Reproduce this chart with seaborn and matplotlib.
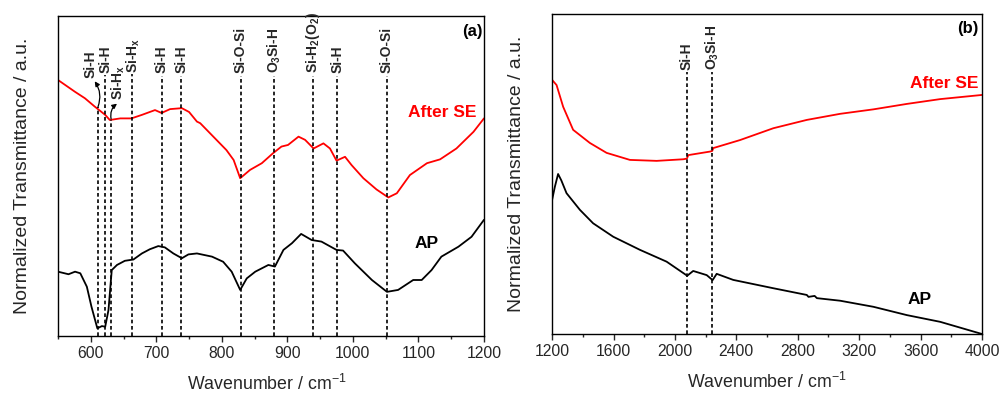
import numpy as np
import pandas as pd
import matplotlib
matplotlib.use("Agg")
import matplotlib.pyplot as plt
import seaborn as sns

# ---------------- data ----------------
# Panel (a): 550-1200 cm-1
a_se_wn = [550, 576, 591, 606, 622, 629, 645, 662, 678, 698, 708, 721, 739, 750, 762,
           767, 787, 807, 818, 828, 843, 861, 878, 891, 901, 917, 927, 940, 955, 965, 975,
           988, 998, 1016, 1036, 1054, 1067, 1087, 1113, 1133, 1158, 1184, 1200]
a_se_y = [80.0, 76.3, 74.3, 71.7, 69.1, 67.5, 68.0, 68.0, 69.1, 70.6, 69.7, 70.9, 71.2,
          70.0, 67.0, 66.5, 62.3, 58.1, 55.0, 49.3, 51.9, 54.0, 57.1, 59.2, 59.7, 62.3,
          61.3, 58.6, 60.2, 58.6, 54.8, 56.0, 53.4, 49.3, 45.8, 43.3, 44.6, 50.3, 54.0,
          55.2, 58.6, 63.8, 68.0]

a_ap_wn = [550, 566, 576, 584, 594, 601, 610, 617, 622, 627, 632, 640, 652, 665, 678,
           690, 703, 713, 726, 739, 749, 762, 785, 802, 815, 828, 838, 851, 871, 881, 894,
           907, 921, 937, 952, 975, 985, 1003, 1029, 1052, 1069, 1092, 1105, 1120, 1135,
           1161, 1181, 1200]
a_ap_y = [20.1, 19.3, 20.1, 19.6, 15.4, 9.2, 2.4, 3.1, 2.9, 8.1, 20.6, 22.2, 23.5, 23.9,
          25.8, 27.1, 28.1, 27.7, 25.8, 24.3, 25.5, 25.8, 24.8, 23.2, 20.1, 14.4, 18.0,
          20.1, 22.2, 21.7, 26.9, 29.0, 31.9, 30.0, 29.5, 26.9, 26.7, 22.7, 17.5, 13.8,
          14.4, 17.5, 17.5, 20.6, 24.8, 27.9, 31.0, 36.3]

# Panel (b): 1200-4000 cm-1
b_se_wn = [1200, 1229, 1272, 1337, 1446, 1555, 1707, 1881, 2054, 2078, 2087, 2228, 2243,
           2250, 2424, 2641, 2859, 3076, 3293, 3511, 3728, 4000]
b_se_y = [79.4, 77.8, 71.0, 63.8, 59.7, 56.6, 54.4, 54.1, 54.6, 54.8, 55.9, 57.0, 57.2,
          58.1, 60.6, 64.3, 66.9, 68.8, 70.2, 71.9, 73.4, 74.7]

b_ap_wn = [1200, 1218, 1239, 1260, 1294, 1381, 1467, 1598, 1772, 1946, 2065, 2080, 2119,
           2207, 2239, 2245, 2272, 2380, 2641, 2859, 2870, 2910, 2925, 3076, 3293, 3511,
           3728, 4000]
b_ap_y = [41.9, 46.0, 50.0, 48.0, 44.0, 38.8, 34.6, 30.4, 26.3, 22.6, 18.7, 18.2, 19.7,
          18.4, 17.1, 16.8, 18.8, 16.9, 14.3, 12.2, 11.6, 11.9, 11.2, 10.4, 8.5, 5.9,
          3.8, 0.0]

# marker lines and labels
a_marks = [611, 622, 631, 663, 708, 738, 829, 880, 939, 976, 1052]
a_mark_labels = ["Si-H", "Si-H", r"Si-H$_\mathbf{x}$", r"Si-H$_\mathbf{x}$", "Si-H", "Si-H",
                 "Si-O-Si", r"O$_\mathbf{3}$Si-H", r"Si-H$_\mathbf{2}$(O$_\mathbf{2}$)",
                 "Si-H", "Si-O-Si"]
b_marks = [2078, 2243]
b_mark_labels = ["Si-H", r"O$_\mathbf{3}$Si-H"]

x_a_ticks = [600, 700, 800, 900, 1000, 1100, 1200]
x_b_ticks = [1200, 1600, 2000, 2400, 2800, 3200, 3600, 4000]

# ---------------- style ----------------
sns.set_style("ticks")
plt.rcParams["font.family"] = ["Liberation Sans", "DejaVu Sans"]
plt.rcParams["mathtext.fontset"] = "custom"
plt.rcParams["mathtext.rm"] = "Liberation Sans"
plt.rcParams["mathtext.bf"] = "Liberation Sans:bold"
plt.rcParams["mathtext.it"] = "Liberation Sans:italic"
plt.rcParams["axes.linewidth"] = 1.0

fig = plt.figure(figsize=(10.02, 3.94), dpi=100)
ax1 = fig.add_axes([0.0579, 0.1472, 0.4251, 0.8122])
ax2 = fig.add_axes([0.551, 0.1523, 0.429, 0.8122])

RED = "#ff0000"
dash = (0, (2.2, 1.6))

def draw(ax, wn_se, y_se, wn_ap, y_ap):
    d1 = pd.DataFrame({"wn": wn_se, "y": y_se})
    d2 = pd.DataFrame({"wn": wn_ap, "y": y_ap})
    sns.lineplot(data=d1, x="wn", y="y", ax=ax, color=RED, lw=1.3, sort=False)
    sns.lineplot(data=d2, x="wn", y="y", ax=ax, color="black", lw=1.3, sort=False)
    for l in ax.lines:
        l.set_solid_joinstyle("round")

draw(ax1, a_se_wn, a_se_y, a_ap_wn, a_ap_y)
draw(ax2, b_se_wn, b_se_y, b_ap_wn, b_ap_y)

# ---- panel (a) ----
ax1.set_xlim(550, 1200)
ax1.set_ylim(0, 100)
ax1.set_xticks(x_a_ticks)
ax1.set_xticks([550, 650, 750, 850, 950, 1050, 1150], minor=True)

line_tops_a = [71.6, 81.6, 67.5, 82, 81.4, 81.4, 81.4, 81.4, 81.4, 81.4, 81.4]
for wn, top in zip(a_marks, line_tops_a):
    ax1.plot([wn, wn], [0, top], color="black", lw=1.2, ls=dash)

lab_kw = dict(rotation=90, fontsize=10, fontweight="bold", ha="center", va="bottom")
label_pos_a = [(599, 80.6), (623, 82.2), (642, 73.6), (665, 82.2), (708, 82.2), (738, 82.2),
               (829, 82.2), (880, 82.2), (939, 82.2), (976, 82.2), (1052, 82.2)]
for (x, y), t in zip(label_pos_a, a_mark_labels):
    ax1.text(x, y, t, **lab_kw)

ax1.annotate("", xy=(606, 79.6), xytext=(611, 71.6),
             arrowprops=dict(arrowstyle="-|>", color="black", lw=0.9, mutation_scale=7,
                             shrinkA=0, shrinkB=0, connectionstyle="arc3,rad=0.25"))
ax1.annotate("", xy=(640, 72.6), xytext=(631, 67.8),
             arrowprops=dict(arrowstyle="-|>", color="black", lw=0.9, mutation_scale=7,
                             shrinkA=0, shrinkB=0, connectionstyle="arc3,rad=-0.3"))

ax1.text(1189, 69.7, "After SE", color=RED, fontsize=12.5, fontweight="bold",
         ha="right", va="center")
ax1.text(1112, 28.9, "AP", color="black", fontsize=12.5, fontweight="bold",
         ha="center", va="center")
ax1.text(1198, 95.3, "(a)", color="black", fontsize=12, fontweight="bold",
         ha="right", va="center")

# ---- panel (b) ----
ax2.set_xlim(1200, 4000)
ax2.set_ylim(0, 100)
ax2.set_xticks(x_b_ticks)
ax2.set_xticks([1400, 1800, 2200, 2600, 3000, 3400, 3800], minor=True)
for wn in b_marks:
    ax2.plot([wn, wn], [0, 81.9], color="black", lw=1.2, ls=dash)
for wn, t in zip(b_marks, b_mark_labels):
    ax2.text(wn, 82.6, t, **lab_kw)

ax2.text(3978, 78.3, "After SE", color=RED, fontsize=12.5, fontweight="bold",
         ha="right", va="center")
ax2.text(3591, 10.9, "AP", color="black", fontsize=12.5, fontweight="bold",
         ha="center", va="center")
ax2.text(3978, 95.5, "(b)", color="black", fontsize=12, fontweight="bold",
         ha="right", va="center")

for ax in (ax1, ax2):
    ax.set_yticks([])
    ax.tick_params(axis="x", which="major", direction="out", length=4, width=1,
                   labelsize=11.3, pad=3)
    ax.tick_params(axis="x", which="minor", direction="out", length=2.5, width=1)
    for s in ax.spines.values():
        s.set_visible(True)
        s.set_color("black")
    ax.set_xlabel(r"Wavenumber / cm$^{\mathrm{-1}}$", fontsize=12.8)
    ax.set_ylabel("Normalized Transmittance / a.u.", fontsize=14)
    ax.yaxis.set_label_coords(-0.063, 0.5)
    ax.xaxis.set_label_coords(0.5, -0.118)

ax1.xaxis.set_label_coords(0.49, -0.118)

fig.savefig("out.png", dpi=100)
